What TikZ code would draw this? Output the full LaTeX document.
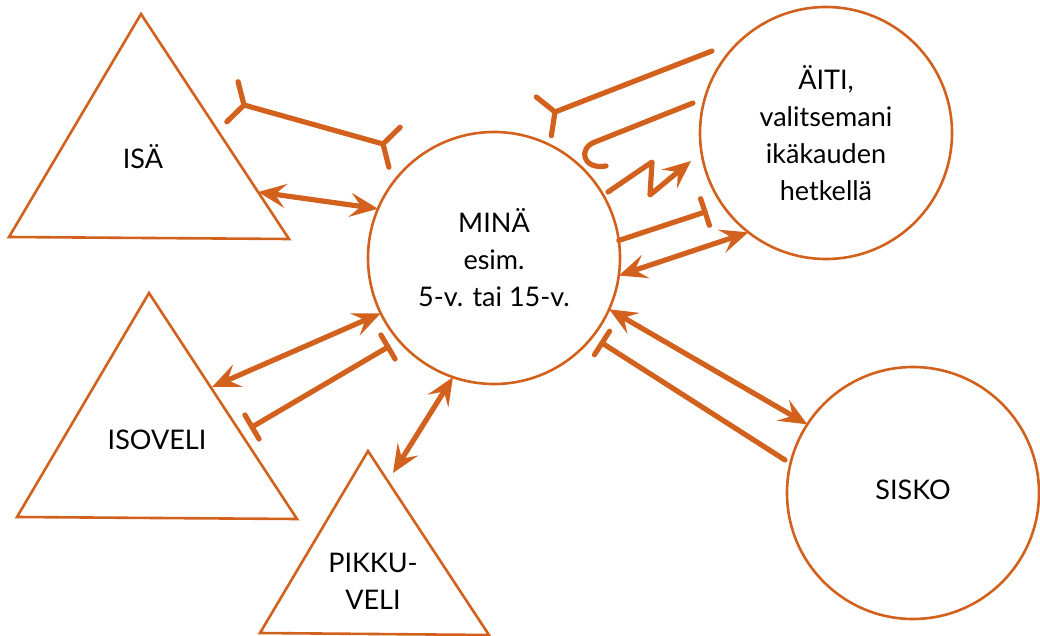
\documentclass[tikz,border=0pt]{standalone}
\usepackage{fontspec}
\setmainfont{Lato}
\usetikzlibrary{arrows.meta,calc}
\definecolor{rust}{RGB}{211,97,30}
\newcommand\lblsize{\fontsize{27}{37}\selectfont}
\tikzset{
  person/.style={circle, draw=rust, line width=2.6pt, minimum size=252pt,
    inner sep=0pt, outer sep=0pt, align=center, font=\lblsize},
  tri/.style={draw=rust, line width=2.6pt, line join=miter},
  lbl/.style={align=center, font=\lblsize, inner sep=0pt},
  link/.style={draw=rust, line width=5.2pt, line cap=round, line join=round},
  tip/.tip={Stealth[length=28pt,width=24pt,inset=11pt]},
  both/.style={link, tip-tip},
  one/.style={link, -tip},
}
\begin{document}
\begin{tikzpicture}[x=1pt,y=-1pt]
\useasboundingbox (0,0) rectangle (1040,636);

% circles
\node[person] (mina)  at (494,258) {MINÄ\\esim.\\5-v. tai 15-v.};
\node[person] (aiti)  at (826,133) {ÄITI,\\valitsemani\\ikäkauden\\hetkellä};
\node[person] (sisko) at (913,493) {\raisebox{6pt}{SISKO}};

% triangles
\coordinate (isa-t)  at (141,14);
\coordinate (isa-l)  at (9,237);
\coordinate (isa-r)  at (289,239);
\draw[tri] (isa-t) -- (isa-l) -- (isa-r) -- cycle;
\node[lbl] (isa) at (143,157) {ISÄ};

\coordinate (iso-t)  at (149,293);
\coordinate (iso-l)  at (17,517);
\coordinate (iso-r)  at (297,519);
\draw[tri] (iso-t) -- (iso-l) -- (iso-r) -- cycle;
\node[lbl] (iso) at (157,440) {ISOVELI};

\coordinate (pik-t)  at (368,451);
\coordinate (pik-l)  at (260,633);
\coordinate (pik-r)  at (489,635);
\draw[tri] (pik-t) -- (pik-l) -- (pik-r) -- cycle;
\node[lbl] (pik) at (373,581) {PIKKU-\\VELI};

% connector ends
\coordinate (isaA) at (258,192);
\coordinate (yA1)  at (244,105);
\coordinate (yA2)  at (383,144);
\coordinate (yB1)  at (555,112);
\coordinate (yB2)  at (712,51);
\coordinate (hk1)  at (693,103);
\coordinate (hk2)  at (595,142);
\coordinate (hk3)  at (606,166);
\coordinate (zz1)  at (608,192);
\coordinate (zz2)  at (652,162);
\coordinate (zz3)  at (650,195);
\coordinate (zz4)  at (691,161);
\coordinate (tB)   at (705,212);
\coordinate (isoA) at (212,387);
\coordinate (tC1)  at (388,347);
\coordinate (tC2)  at (252,427);
\coordinate (pikA) at (393,473);
\coordinate (tD1)  at (602,343);
\coordinate (tD2)  at (785,460);

% ISÄ -- MINÄ
\draw[both] (isaA) -- (mina.157);
\draw[link] (yA1) -- (yA2);
\draw[link] ($(yA1)!24pt!120:(yA2)$) -- (yA1) -- ($(yA1)!24pt!-120:(yA2)$);
\draw[link] ($(yA2)!24pt!120:(yA1)$) -- (yA2) -- ($(yA2)!24pt!-120:(yA1)$);

% MINÄ -- ÄITI
\draw[link] (yB1) -- (yB2);
\draw[link] ($(yB1)!24pt!120:(yB2)$) -- (yB1) -- ($(yB1)!24pt!-120:(yB2)$);
\draw[link] (hk1) -- (hk2) .. controls (578,148) and (582,170) .. (hk3);
\draw[one] (zz1) -- (zz2) -- (zz3) -- (zz4);
\draw[link] (mina.8) -- (tB);
\draw[link] ($(tB)!14pt!90:(mina.8)$) -- ($(tB)!14pt!-90:(mina.8)$);
\draw[both] (mina.-8) -- (aiti.232);

% MINÄ -- ISOVELI
\draw[both] (mina.206) -- (isoA);
\draw[link] (tC1) -- (tC2);
\draw[link] ($(tC1)!14pt!90:(tC2)$) -- ($(tC1)!14pt!-90:(tC2)$);
\draw[link] ($(tC2)!14pt!90:(tC1)$) -- ($(tC2)!14pt!-90:(tC1)$);

% MINÄ -- PIKKUVELI
\draw[both] (mina.251) -- (pikA);

% MINÄ -- SISKO
\draw[both] (mina.-24) -- (sisko.147);
\draw[link] (tD1) -- (tD2);
\draw[link] ($(tD1)!14pt!90:(tD2)$) -- ($(tD1)!14pt!-90:(tD2)$);
\end{tikzpicture}
\end{document}
